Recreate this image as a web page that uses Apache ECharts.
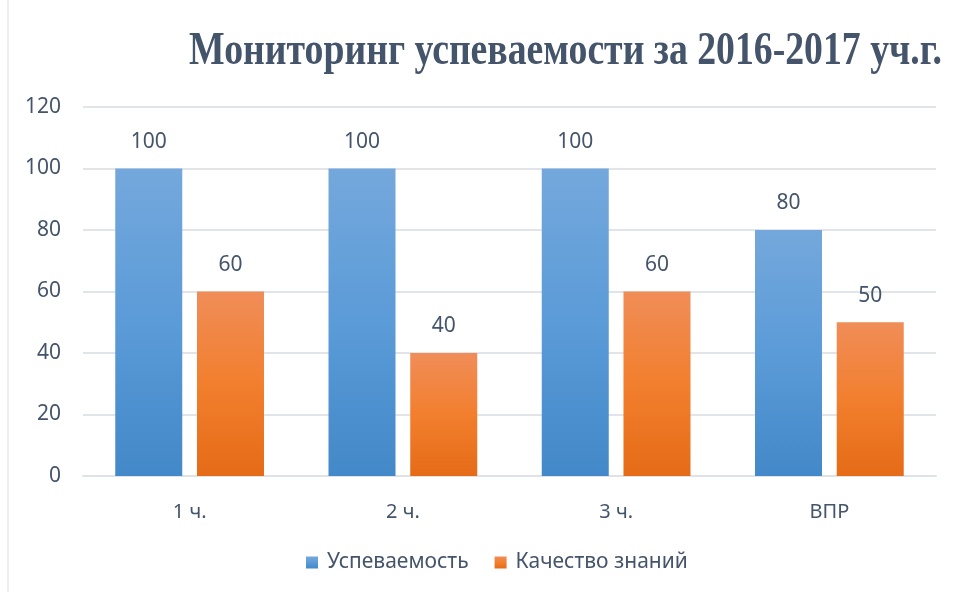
<!DOCTYPE html>
<html>
<head>
<meta charset="utf-8">
<title>Мониторинг успеваемости</title>
<script src="https://cdn.jsdelivr.net/npm/echarts@6/dist/echarts.min.js"></script>
<style>
  html, body { margin: 0; padding: 0; background: #ffffff; }
  #chart { width: 960px; height: 592px; }
</style>
</head>
<body>
<div id="chart"></div>
<script>
// данные
const categories = ["1 ч.", "2 ч.", "3 ч.", "ВПР"];
const uspevaemost = [100, 100, 100, 80];
const kachestvo = [60, 40, 60, 50];
const seriesNames = ["Успеваемость", "Качество знаний"];

const textColor = "#44546a";

function grad(top, mid, bottom) {
  return new echarts.graphic.LinearGradient(0, 0, 0, 1, [
    { offset: 0, color: top },
    { offset: 0.5, color: mid },
    { offset: 1, color: bottom }
  ]);
}

const labelStyle = {
  show: true,
  position: "top",
  distance: 16,
  color: textColor,
  fontSize: 21,
  fontFamily: "Noto Sans"
};

const option = {
  backgroundColor: "#ffffff",
  animation: false,
  textStyle: { fontFamily: "Noto Sans" },
  graphic: [
    {
      type: "text",
      x: 942,
      y: 52,
      scaleX: 0.82,
      style: {
        text: "Мониторинг успеваемости за 2016-2017 уч.г.",
        fontFamily: "Liberation Serif",
        fontWeight: "bold",
        fontSize: 46,
        fill: textColor,
        align: "right",
        verticalAlign: "middle"
      }
    },
    {
      type: "line",
      shape: { x1: 8, y1: 0, x2: 8, y2: 592 },
      style: { stroke: "#d9dde3", lineWidth: 1 }
    }
  ],
  legend: {
    bottom: 14,
    left: 301,
    itemWidth: 12,
    itemHeight: 12,
    itemGap: 26,
    icon: "rect",
    textStyle: {
      color: textColor,
      fontSize: 21,
      fontFamily: "Noto Sans",
      padding: [0, 0, 0, 4]
    },
    data: seriesNames
  },
  grid: { left: 83, right: 24, top: 107, bottom: 116 },
  xAxis: {
    type: "category",
    data: categories,
    axisTick: { show: false },
    axisLine: { lineStyle: { color: "#dfe3e8", width: 2 } },
    axisLabel: { color: textColor, fontSize: 20, margin: 26 }
  },
  yAxis: {
    type: "value",
    min: 0,
    max: 120,
    interval: 20,
    axisLine: { show: false },
    axisTick: { show: false },
    splitLine: { lineStyle: { color: "#e1e5ea", width: 2 } },
    axisLabel: { color: textColor, fontSize: 21, margin: 22 }
  },
  series: [
    {
      name: seriesNames[0],
      type: "bar",
      data: uspevaemost,
      barWidth: 67,
      barGap: "22%",
      itemStyle: { color: grad("#74a8dc", "#5b9bd8", "#4388c8") },
      label: labelStyle
    },
    {
      name: seriesNames[1],
      type: "bar",
      data: kachestvo,
      barWidth: 67,
      itemStyle: { color: grad("#f08d58", "#f27f2e", "#e56b17") },
      label: labelStyle
    }
  ]
};

const chartObj = echarts.init(document.getElementById("chart"));
chartObj.setOption(option);
window.addEventListener("resize", function() {
  chartObj.resize();
});
</script>
</body>
</html>
